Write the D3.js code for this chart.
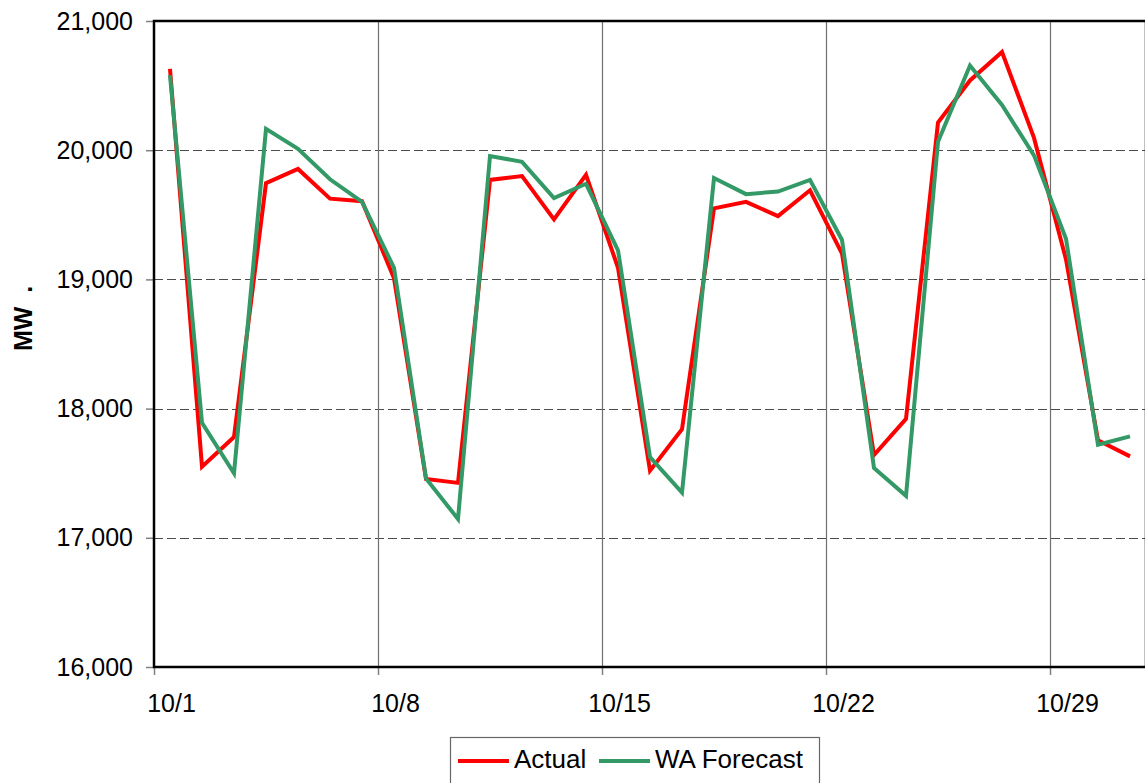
<!DOCTYPE html>
<html>
<head>
<meta charset="utf-8">
<script src="https://cdn.jsdelivr.net/npm/d3@7"></script>
<style>
  html, body { margin: 0; padding: 0; background: #fff; }
  svg { display: block; font-family: Arial, "Liberation Sans", sans-serif; }
</style>
</head>
<body>
<svg id="chart" width="1145" height="783"></svg>
<script>
// Daily load, October: actual vs. WA forecast (MW)
const days = d3.range(1, 32);
const actual = [20630, 17550, 17780, 19745, 19855, 19625, 19605, 19010, 17455, 17425,
                19770, 19800, 19465, 19810, 19090, 17520, 17840, 19550, 19600, 19490,
                19690, 19200, 17640, 17920, 20215, 20540, 20760, 20095, 19155, 17755, 17630];
const forecast = [20580, 17890, 17500, 20165, 20010, 19775, 19600, 19090, 17460, 17145,
                  19955, 19910, 19630, 19740, 19225, 17625, 17350, 19785, 19660, 19680,
                  19770, 19305, 17540, 17325, 20065, 20655, 20350, 19960, 19315, 17720, 17785];
const yTicks = [16000, 17000, 18000, 19000, 20000, 21000];
const xTickDays = [1, 8, 15, 22, 29];
const seriesNames = ["Actual", "WA Forecast"];
const seriesColors = ["#ff0000", "#339966"];

const svg = d3.select("#chart");
const plotL = 154, plotR = 1146, plotT = 21, plotB = 667;

const day = d => new Date(2007, 9, d);
const noon = d => new Date(2007, 9, d, 12);

const x = d3.scaleTime().domain([day(1), day(32)]).range([plotL, plotR]);
const y = d3.scaleLinear().domain([16000, 21000]).range([plotB, plotT]);
const crisp = v => Math.round(v) + 0.5;

// horizontal dashed gridlines
svg.append("g").selectAll("line")
  .data(yTicks.filter(v => v > 16000 && v < 21000))
  .join("line")
  .attr("x1", plotL).attr("x2", plotR)
  .attr("y1", d => crisp(y(d))).attr("y2", d => crisp(y(d)))
  .attr("stroke", "#4d4d4d").attr("stroke-width", 1.2)
  .attr("stroke-dasharray", "9,4");

// vertical gridlines at weekly ticks
svg.append("g").selectAll("line")
  .data(xTickDays.slice(1))
  .join("line")
  .attr("x1", d => crisp(x(day(d)))).attr("x2", d => crisp(x(day(d))))
  .attr("y1", plotT).attr("y2", plotB)
  .attr("stroke", "#707070").attr("stroke-width", 1.2);

// y axis
const yAxis = d3.axisLeft(y).tickValues(yTicks).tickSize(8).tickPadding(13)
  .tickFormat(d3.format(","));
const gy = svg.append("g").attr("transform", `translate(${plotL},0)`).call(yAxis);
gy.select(".domain").remove();
gy.selectAll(".tick line").attr("stroke", "#808080").attr("stroke-width", 1.5);
gy.selectAll(".tick text").attr("font-size", 25).attr("fill", "#000")
  .attr("font-family", "Arial, 'Liberation Sans', sans-serif");

// x axis: ticks at day boundaries, labels centred on the day
const xAxis = d3.axisBottom(x).tickValues(xTickDays.map(day)).tickSize(8)
  .tickFormat(d => `${d.getMonth() + 1}/${d.getDate()}`);
const gx = svg.append("g").attr("transform", `translate(0,${plotB})`).call(xAxis);
gx.select(".domain").remove();
gx.selectAll(".tick line").attr("stroke", "#808080").attr("stroke-width", 1.5);
gx.selectAll(".tick text")
  .attr("font-size", 25).attr("fill", "#000")
  .attr("font-family", "Arial, 'Liberation Sans', sans-serif")
  .attr("dy", null).attr("y", 45)
  .attr("x", d => x(noon(d.getDate())) - x(d) + 1);

// plot frame
svg.append("rect")
  .attr("x", plotL).attr("y", plotT)
  .attr("width", plotR - plotL).attr("height", plotB - plotT)
  .attr("fill", "none").attr("stroke", "#000").attr("stroke-width", 2.5);

// series lines
const line = d3.line().x((d, i) => x(noon(days[i]))).y(d => y(d));
[actual, forecast].forEach((s, k) => {
  svg.append("path").datum(s)
    .attr("d", line)
    .attr("fill", "none")
    .attr("stroke", seriesColors[k])
    .attr("stroke-width", 4)
    .attr("stroke-linejoin", "miter");
});

// y axis title
svg.append("text")
  .attr("transform", "translate(32,351) rotate(-90)")
  .attr("font-size", 25).attr("font-weight", "bold")
  .style("white-space", "pre")
  .text("MW  .");

// legend
const lg = svg.append("g");
lg.append("rect").attr("x", 450.5).attr("y", 737.5).attr("width", 369).attr("height", 70)
  .attr("fill", "#fff").attr("stroke", "#666").attr("stroke-width", 1.2);
const legendX = [[458, 514], [599, 655]];
seriesNames.forEach((n, k) => {
  lg.append("line")
    .attr("x1", legendX[k][0]).attr("x2", legendX[k][0] + 51)
    .attr("y1", 761).attr("y2", 761)
    .attr("stroke", seriesColors[k]).attr("stroke-width", 4);
  lg.append("text").attr("x", legendX[k][1]).attr("y", 768)
    .attr("font-size", 26).text(n);
});
</script>
</body>
</html>
